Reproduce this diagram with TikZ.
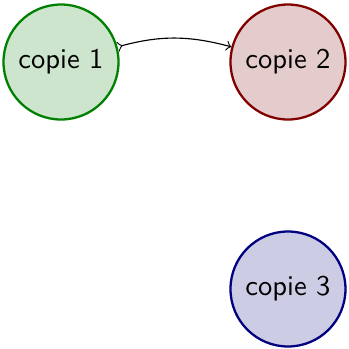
\documentclass[tikz,border=0pt]{standalone}
\usetikzlibrary{arrows}
\begin{document}
\begin{tikzpicture}[x=0.35pt,y=-0.35pt,
  copie/.style={circle,draw=#1!50!black,fill=#1!50!black!20,thick,minimum size=115*0.35pt,inner sep=0pt,font=\sffamily}]
\useasboundingbox (0,0) rectangle (349,349);
\node[copie=green] (c1) at (61,62) {copie 1};
\node[copie=red] (c2) at (288,62) {copie 2};
\node[copie=blue] (c3) at (288,289) {copie 3};
\draw[>->] (c1) to[bend left=15] (c2);
\end{tikzpicture}
\end{document}
